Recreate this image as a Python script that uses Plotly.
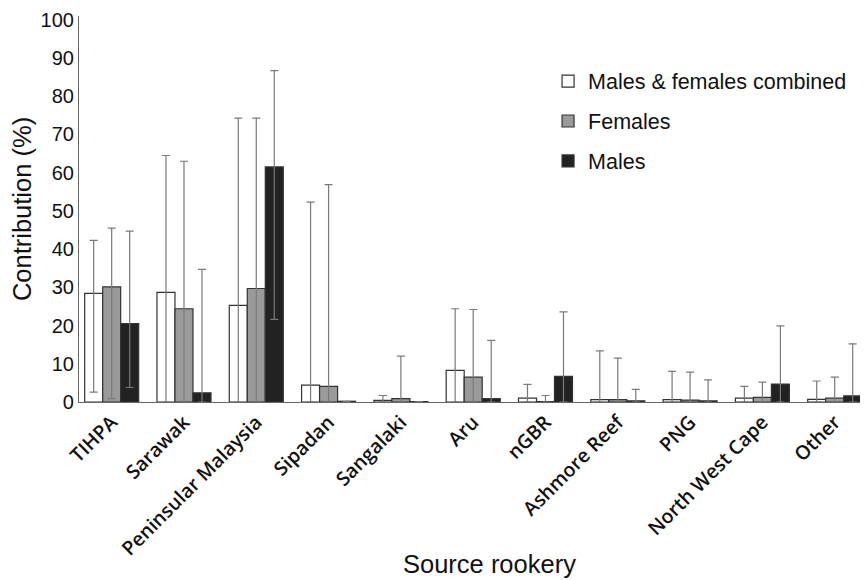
import plotly.graph_objects as go

categories = ["TIHPA", "Sarawak", "Peninsular Malaysia", "Sipadan", "Sangalaki", "Aru",
              "nGBR", "Ashmore Reef", "PNG", "North West Cape", "Other"]

combined = [28.4, 28.7, 25.3, 4.4, 0.4, 8.3, 1.0, 0.6, 0.6, 1.0, 0.7]
combined_hi = [42.3, 64.5, 74.3, 52.3, 1.7, 24.4, 4.6, 13.4, 8.0, 4.1, 5.5]
combined_lo = [2.6, 0, 0, 0, 0, 0, 0, 0, 0, 0, 0]

females = [30.1, 24.4, 29.7, 4.1, 0.9, 6.5, 0.1, 0.6, 0.5, 1.2, 1.0]
females_hi = [45.5, 63.0, 74.3, 56.9, 12.0, 24.2, 1.7, 11.5, 7.8, 5.2, 6.5]
females_lo = [0.9, 0, 0, 0, 0, 0, 0, 0, 0, 0, 0]

males = [20.5, 2.4, 61.5, 0.2, 0.1, 0.9, 6.7, 0.3, 0.3, 4.7, 1.6]
males_hi = [44.7, 34.7, 86.7, 0.2, 0.1, 16.1, 23.6, 3.3, 5.8, 19.9, 15.2]
males_lo = [3.8, 0, 21.6, 0, 0, 0, 0, 0, 0, 0, 0]

series = [
    ("Males & females combined", combined, combined_hi, combined_lo, "#ffffff"),
    ("Females", females, females_hi, females_lo, "#9a9a9a"),
    ("Males", males, males_hi, males_lo, "#222222"),
]

fig = go.Figure()
for i, (name, vals, hi, lo, color) in enumerate(series):
    fig.add_trace(go.Bar(
        name=name, x=categories, y=vals,
        marker=dict(color=color, line=dict(color="#333333", width=1.2)),
        error_y=dict(type="data", symmetric=False,
                     array=[h - v for h, v in zip(hi, vals)],
                     arrayminus=[v - l for v, l in zip(vals, lo)],
                     color="#7a7a7a", thickness=1.2, width=4),
        legendgroup=f"g{i}",
    ))

fig.update_layout(
    width=868, height=580,
    barmode="group", bargap=0.253, bargroupgap=0,
    plot_bgcolor="white", paper_bgcolor="white",
    margin=dict(l=71, r=10, t=8, b=186),
    font=dict(family="Liberation Sans, Arial, sans-serif", color="#111111"),
    legend=dict(x=0.596, y=0.8845, xanchor="left", yanchor="top",
                font=dict(size=21.5, family="Liberation Sans, Arial, sans-serif"),
                tracegroupgap=9, bgcolor="rgba(0,0,0,0)"),
    xaxis=dict(
        range=[-0.452, 10.433], automargin=False,
        showline=True, linecolor="#666666", linewidth=1.2,
        ticks="", tickangle=-45,
        tickfont=dict(family="Open Sans, sans-serif", size=19.5, weight=600, color="#111111"),
    ),
    yaxis=dict(
        range=[0, 101], automargin=False,
        tickvals=list(range(0, 101, 10)),
        showline=True, linecolor="#666666", linewidth=1.2,
        showgrid=False, zeroline=False, ticks="",
        tickfont=dict(size=20),
        title=dict(text="Contribution (%)", font=dict(size=25.5), standoff=2),
    ),
    annotations=[dict(text="Source rookery", xref="paper", yref="paper",
                      x=0.522, y=0, xanchor="center", yanchor="middle",
                      yshift=-162, showarrow=False, font=dict(size=25.5))],
)

fig.write_html("out.html")
